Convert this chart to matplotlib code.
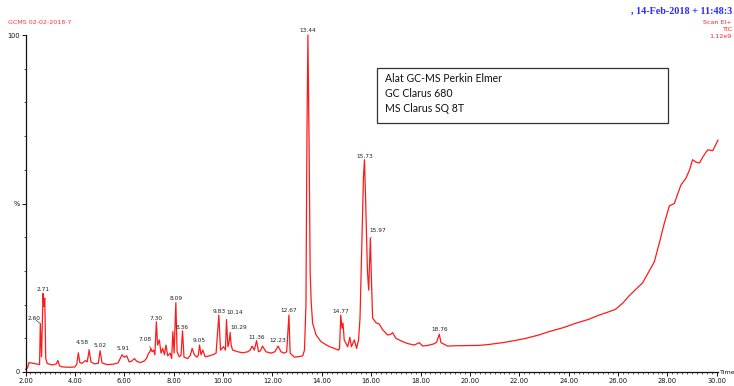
import numpy as np
import matplotlib
matplotlib.use("Agg")
import matplotlib.pyplot as plt
from matplotlib.patches import Rectangle
from matplotlib.ticker import MultipleLocator, FixedLocator

# ---------------------------------------------------------------------------
# TIC trace (retention time in min, relative %)
# ---------------------------------------------------------------------------
rt_min = [
    2.00, 2.08, 2.14, 2.30, 2.50, 2.57, 2.60, 2.65, 2.71, 2.74, 2.78, 2.82,
    2.88, 3.10, 3.25, 3.31, 3.38, 3.50, 3.80, 4.00, 4.08, 4.14, 4.20, 4.30,
    4.43, 4.50, 4.58, 4.65, 4.80, 4.95, 5.02, 5.10, 5.30, 5.55, 5.75, 5.85,
    5.91, 6.00, 6.10, 6.20, 6.30, 6.41, 6.50, 6.65, 6.80, 6.90, 6.98, 7.04,
    7.08, 7.13, 7.19, 7.24, 7.30, 7.35, 7.42, 7.49, 7.56, 7.63, 7.69, 7.76,
    7.86, 7.92, 7.97, 8.02, 8.09, 8.14, 8.23, 8.30, 8.36, 8.42, 8.57, 8.68,
    8.75, 8.84, 8.94, 9.00, 9.05, 9.11, 9.18, 9.28, 9.45, 9.58, 9.72, 9.83,
    9.90, 10.02, 10.10, 10.14, 10.20, 10.25, 10.29, 10.33, 10.39, 10.60, 10.80, 11.00,
    11.10, 11.18, 11.27, 11.36, 11.44, 11.52, 11.60, 11.74, 11.94, 12.10, 12.23, 12.35,
    12.48, 12.58, 12.67, 12.72, 12.89, 13.10, 13.23, 13.30, 13.36, 13.40, 13.44, 13.49,
    13.53, 13.57, 13.63, 13.77, 13.97, 14.31, 14.51, 14.68, 14.72, 14.77, 14.82, 14.86,
    14.91, 15.05, 15.14, 15.20, 15.32, 15.41, 15.49, 15.55, 15.63, 15.69, 15.73, 15.78,
    15.85, 15.90, 15.97, 16.01, 16.06, 16.20, 16.33, 16.47, 16.67, 16.80, 16.87, 17.00,
    17.28, 17.50, 17.75, 17.95, 18.09, 18.30, 18.52, 18.65, 18.76, 18.83, 19.10, 19.50,
    20.38, 20.80, 21.32, 21.80, 22.27, 22.80, 23.21, 23.80, 24.30, 24.80, 25.24, 25.60,
    25.90, 26.20, 26.45, 26.72, 27.00, 27.25, 27.47, 27.67, 27.87, 28.08, 28.28, 28.40,
    28.55, 28.75, 28.90, 29.02, 29.15, 29.30, 29.45, 29.63, 29.84, 30.05,
]
rel_pct = [
    0.8, 1.2, 2.8, 2.6, 2.3, 2.2, 14.4, 4.5, 23.3, 19.5, 21.9, 4.0,
    2.5, 2.1, 2.4, 3.4, 1.8, 1.5, 1.4, 1.5, 2.4, 5.7, 2.8, 2.6,
    3.4, 3.0, 6.5, 3.0, 2.4, 2.6, 6.3, 2.7, 2.2, 2.3, 2.7, 4.2,
    5.1, 4.4, 4.8, 3.0, 3.2, 4.0, 3.2, 2.8, 3.2, 4.0, 5.5, 6.0,
    7.0, 6.0, 6.5, 5.1, 14.9, 8.0, 9.5, 5.6, 7.0, 5.1, 8.0, 4.8,
    5.6, 4.0, 12.0, 5.6, 20.6, 6.0, 4.5, 5.0, 12.2, 4.4, 4.0, 5.0,
    7.0, 5.1, 4.4, 5.0, 8.0, 5.1, 6.5, 4.5, 4.8, 5.1, 5.6, 16.9,
    6.5, 7.5, 6.5, 15.5, 7.5, 9.0, 11.6, 8.0, 6.5, 6.0, 5.7, 6.0,
    6.5, 7.7, 6.5, 9.3, 6.0, 6.3, 7.7, 6.0, 5.6, 6.0, 7.7, 6.0,
    5.6, 6.0, 16.9, 5.6, 4.4, 4.6, 4.8, 6.5, 20.0, 70.0, 100.0, 65.0,
    30.0, 21.0, 14.5, 11.0, 9.0, 7.5, 7.0, 6.5, 7.0, 16.9, 13.0, 14.5,
    9.5, 7.5, 10.3, 7.5, 9.5, 7.0, 9.5, 16.0, 40.0, 58.0, 63.0, 50.0,
    30.0, 24.3, 39.7, 28.0, 16.0, 14.6, 14.2, 12.5, 11.0, 11.2, 11.7, 10.0,
    9.0, 8.4, 8.0, 8.7, 7.7, 7.9, 8.3, 8.8, 11.2, 8.7, 7.7, 7.8,
    7.9, 8.2, 8.7, 9.3, 10.0, 11.0, 12.0, 13.2, 14.5, 15.6, 16.9, 17.8,
    18.6, 20.5, 22.6, 24.5, 26.5, 29.8, 32.7, 38.2, 44.0, 49.3, 50.0, 52.5,
    55.5, 57.5, 60.0, 63.0, 62.3, 62.0, 64.0, 65.9, 65.7, 68.8,
]

# labelled peaks
peak_rt = [2.60, 2.71, 4.58, 5.02, 5.91, 7.08, 7.30, 8.09, 8.36, 9.05, 9.83,
           10.14, 10.29, 11.36, 12.23, 12.67, 13.44, 14.77, 15.73, 15.97, 18.76]
peak_pct = [14.4, 23.3, 6.5, 6.3, 5.1, 7.0, 14.9, 20.6, 12.2, 8.0, 16.9,
            15.5, 11.6, 9.3, 7.7, 16.9, 100.0, 16.9, 63.0, 39.7, 11.2]

# label offsets from the apex in pixels, True where a leader line is drawn
label_dx = [-6, 0, -7, 0, 1, -6, 0, 0, 0, 0, 0, 8, 8.5, 0, 0, 0, 0, 0, 0, 7, 0]
label_dy = [4.5, 4, 7.5, 5, 6, 9, 3.5, 4.3, 3.6, 4.3, 3.3, 7, 5.6, 3.4, 5.3, 4.3, 5, 3.3, 3.5, 8, 4.3]
leader = [True, False, True, False, False, True, False, False, False, False, False,
          True, True, False, False, False, False, False, False, True, False]

x_ticks = np.arange(2, 31, 2)
y_ticks = [0, 50, 100]
y_tick_labels = ["0", "%", "100"]

info_lines = ["Alat GC-MS Perkin Elmer", "GC Clarus 680", "MS Clarus SQ 8T"]
scan_lines = ["Scan EI+", "TIC", "1.12e9"]

W, H = 734, 386
TRACE_RED = "#ff1a1a"
INK = "#222222"


def px(x, y):
    """Figure pixel (top-left origin) -> figure fraction."""
    return x / W, 1 - y / H


def main() -> None:
    fig = plt.figure(figsize=(W / 100, H / 100), dpi=100)
    fig.patch.set_facecolor("white")

    # axes: 2.00 min at x=25.5 px, 30.05 at ~718 px; 0 % at y=372, 100 % at y=35
    ax = fig.add_axes([25.5 / W, (H - 372) / H, 692.5 / W, 337 / H])
    ax.set_xlim(2.0, 30.05)
    ax.set_ylim(0, 100)

    ax.plot(rt_min, rel_pct, color=TRACE_RED, lw=0.9, clip_on=False,
            solid_joinstyle="round")

    for t, h, dx, dy, ld in zip(peak_rt, peak_pct, label_dx, label_dy, leader):
        ax.annotate(
            f"{t:.2f}", xy=(t, h), xytext=(dx, dy), textcoords="offset pixels",
            ha="center", va="center", fontsize=4.2, color=INK,
            arrowprops=dict(arrowstyle="-", color="#444444", lw=0.5,
                            shrinkA=1.5, shrinkB=0.5) if ld else None,
        )

    # ---- spines and ticks --------------------------------------------------
    for side in ("top", "right"):
        ax.spines[side].set_visible(False)
    for side in ("left", "bottom"):
        ax.spines[side].set_linewidth(0.9)
        ax.spines[side].set_color("#111111")

    ax.xaxis.set_major_locator(FixedLocator(x_ticks))
    ax.set_xticklabels([f"{v:.2f}" for v in x_ticks])
    ax.xaxis.set_minor_locator(MultipleLocator(0.2))
    ax.yaxis.set_major_locator(FixedLocator(y_ticks))
    ax.set_yticklabels(y_tick_labels)
    ax.yaxis.set_minor_locator(MultipleLocator(10))

    ax.tick_params(axis="x", which="major", direction="out", length=3,
                   width=0.7, labelsize=4.8, pad=1, colors="#111111")
    ax.tick_params(axis="x", which="minor", direction="out", length=1.5,
                   width=0.5, colors="#111111")
    ax.tick_params(axis="y", which="major", direction="out", length=3,
                   width=0.7, labelsize=4.8, pad=1, colors="#111111")
    ax.tick_params(axis="y", which="minor", direction="out", length=1.5,
                   width=0.5, colors="#111111")

    ax.text(30.1, 0, "Time", fontsize=4.6, color="#111111",
            ha="left", va="center", clip_on=False)

    # ---- header texts ------------------------------------------------------
    fig.text(*px(8, 22), "GCMS 02-02-2018-7", fontsize=4.6, color="#ff3333",
             ha="left", va="center")
    fig.text(*px(631, 11), ", 14-Feb-2018 + 11:48:3", fontsize=7.3,
             color="#2a2aff", fontweight="bold", family="Liberation Serif",
             ha="left", va="center")
    for i, line in enumerate(scan_lines):
        fig.text(*px(732, 22 + 7.5 * i), line, fontsize=4.6, color="#ff2222",
                 ha="right", va="center")

    # ---- instrument box ----------------------------------------------------
    x0, y0 = px(377, 123)
    box = Rectangle((x0, y0), 291 / W, 55 / H, transform=fig.transFigure,
                    facecolor="white", edgecolor="#333333", lw=0.9)
    fig.patches.append(box)
    for i, line in enumerate(info_lines):
        fig.text(*px(385, 79 + 14.5 * i), line, fontsize=7.6, color="#111111",
                 family="Lato", ha="left", va="center")

    fig.savefig("out.png", dpi=100, facecolor="white")
    plt.close(fig)


if __name__ == "__main__":
    main()
